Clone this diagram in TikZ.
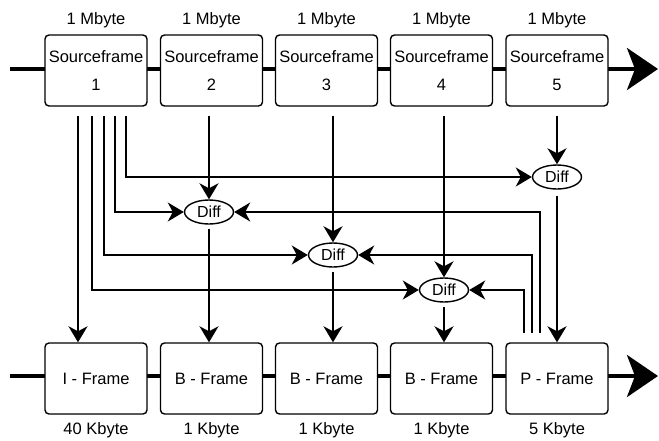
\documentclass[tikz,border=0pt]{standalone}
\usepackage{fontspec}
\setmainfont{Liberation Sans}
\usetikzlibrary{arrows.meta,shapes.geometric}
\begin{document}
\begin{tikzpicture}[x=1pt,y=-1pt,
  frame/.style={draw, line width=1.4pt, rounded corners=4pt, fill=white,
    minimum width=102pt, minimum height=71pt, inner sep=0pt,
    font=\fontsize{16.5}{28}\selectfont, align=center},
  diffnode/.style={draw, ellipse, line width=1.4pt, fill=white,
    minimum width=49pt, minimum height=24pt, inner sep=0pt,
    font=\fontsize{16}{18}\selectfont},
  lbl/.style={font=\fontsize{16.5}{18}\selectfont, inner sep=0pt},
  conn/.style={line width=2pt, -{Stealth[length=16pt,width=19pt,inset=5pt]}},
  mainline/.style={line width=4pt},
  bigtip/.style={-{Stealth[length=31pt,width=42pt,inset=8pt]}}
]
\useasboundingbox (0,0) rectangle (659,440);

% main lines
\coordinate (tl) at (10,69);
\coordinate (tr) at (658,69);
\coordinate (bl) at (10,376);
\coordinate (br) at (658,376);
\draw[mainline,bigtip] (tl) -- (tr);
\draw[mainline,bigtip] (bl) -- (br);

% source frames
\node[frame] (s1) at (96,70.5) {Sourceframe\\1};
\node[frame] (s2) at (211.5,70.5) {Sourceframe\\2};
\node[frame] (s3) at (326.5,70.5) {Sourceframe\\3};
\node[frame] (s4) at (441.5,70.5) {Sourceframe\\4};
\node[frame] (s5) at (557,70.5) {Sourceframe\\5};

% encoded frames
\node[frame] (i1) at (96,378.5) {I - Frame};
\node[frame] (b2) at (211.5,378.5) {B - Frame};
\node[frame] (b3) at (326.5,378.5) {B - Frame};
\node[frame] (b4) at (441.5,378.5) {B - Frame};
\node[frame] (p5) at (557,378.5) {P - Frame};

% size labels
\node[lbl] (m1) at (96,20) {1 Mbyte};
\node[lbl] (m2) at (211.5,20) {1 Mbyte};
\node[lbl] (m3) at (326.5,20) {1 Mbyte};
\node[lbl] (m4) at (441.5,20) {1 Mbyte};
\node[lbl] (m5) at (557,20) {1 Mbyte};
\node[lbl] (k1) at (96,430) {40 Kbyte};
\node[lbl] (k2) at (211.5,430) {1 Kbyte};
\node[lbl] (k3) at (326.5,430) {1 Kbyte};
\node[lbl] (k4) at (441.5,430) {1 Kbyte};
\node[lbl] (k5) at (557,430) {5 Kbyte};

% diff nodes
\node[diffnode] (d2) at (209,212) {Diff};
\node[diffnode] (d3) at (333,255) {Diff};
\node[diffnode] (d4) at (444,290) {Diff};
\node[diffnode] (d5) at (557,177) {Diff};

% from source frame 1
\draw[conn] ([xshift=-18pt,yshift=-9pt]s1.south) -- ([xshift=-18pt]i1.north);
\draw[conn] ([xshift=-4pt,yshift=-9pt]s1.south) |- (d4.west);
\draw[conn] ([xshift=8pt,yshift=-9pt]s1.south) |- (d3.west);
\draw[conn] ([xshift=19pt,yshift=-9pt]s1.south) |- (d2.west);
\draw[conn] ([xshift=30pt,yshift=-9pt]s1.south) |- (d5.west);

% from source frames 2-5
\draw[conn] ([yshift=-9pt]d2 |- s2.south) -- (d2.north);
\draw[conn] ([yshift=-9pt]d3 |- s3.south) -- (d3.north);
\draw[conn] ([yshift=-9pt]d4 |- s4.south) -- (d4.north);
\draw[conn] ([yshift=-9pt]d5 |- s5.south) -- (d5.north);

% from P-frame back to diffs
\draw[conn] ([xshift=-17pt,yshift=9pt]p5.north) |- (d2.east);
\draw[conn] ([xshift=-25pt,yshift=9pt]p5.north) |- (d3.east);
\draw[conn] ([xshift=-33pt,yshift=9pt]p5.north) |- (d4.east);

% diffs down to encoded frames
\draw[conn] ([yshift=-4pt]d2.south) -- (d2 |- b2.north);
\draw[conn] ([yshift=-4pt]d3.south) -- (d3 |- b3.north);
\draw[conn] ([yshift=-4pt]d4.south) -- (d4 |- b4.north);
\draw[conn] ([yshift=-6pt]d5.south) -- (d5 |- p5.north);
\end{tikzpicture}
\end{document}
